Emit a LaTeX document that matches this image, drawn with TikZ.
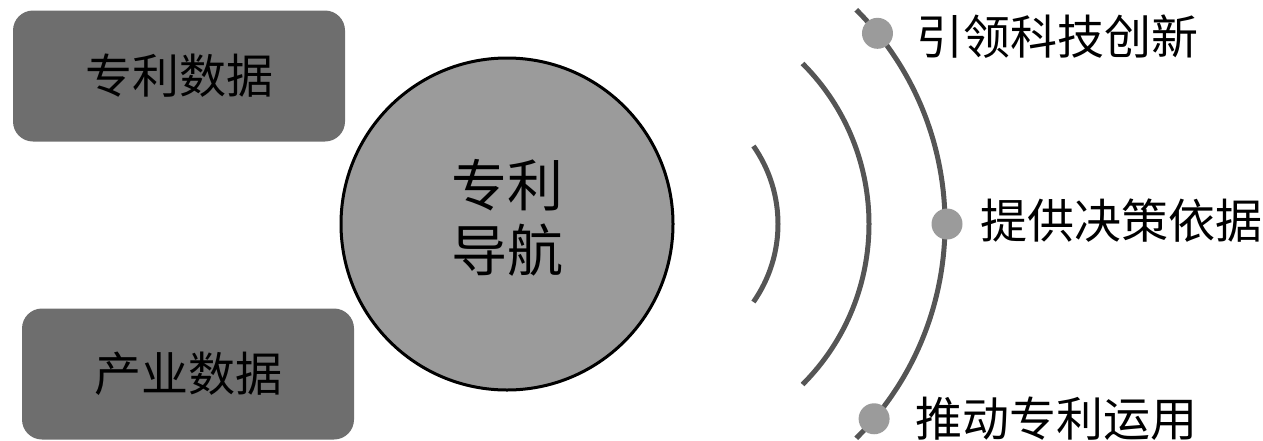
\documentclass[tikz,border=0pt]{standalone}
\usepackage{fontspec}
\newfontfamily\cjk{Noto Sans CJK SC}
\usetikzlibrary{calc}
\definecolor{boxgray}{HTML}{6E6E6E}
\definecolor{circgray}{HTML}{9B9B9B}
\definecolor{arcgray}{HTML}{555555}
\tikzset{
  databox/.style={fill=boxgray, rounded corners=20pt, inner sep=0pt,
    minimum width=332pt, minimum height=131pt,
    font=\cjk\fontsize{47}{56}\selectfont},
  hubcircle/.style={circle, fill=circgray, draw=black, line width=3pt,
    minimum size=332pt, inner sep=0pt},
  hubtext/.style={inner sep=0pt, align=center,
    font=\cjk\fontsize{56}{65}\selectfont},
  wave/.style={draw=arcgray, line width=5pt},
  dot/.style={circle, fill=circgray, minimum size=31pt, inner sep=0pt},
  label/.style={anchor=west, inner sep=0pt, font=\cjk\fontsize{47}{56}\selectfont}
}
\begin{document}
\begin{tikzpicture}[x=1pt, y=-1pt]
\useasboundingbox (0,0) rectangle (1263,440);
\node[databox] (d1) at (179,76) {专利数据};
\node[databox] (d2) at (188,374) {产业数据};
\node[hubcircle] (hub) at (507,224) {};
\node[hubtext] (hubt) at ($(hub.center)+(0,-6)$) {专利\\导航};
\coordinate (c) at (642,224);
\draw[wave] ($(c)+(-35:136)$) arc[start angle=-35, end angle=35, radius=136];
\draw[wave] ($(c)+(-45:227)$) arc[start angle=-45, end angle=45, radius=227];
\draw[wave] ($(c)+(-45:303)$) arc[start angle=-45, end angle=45, radius=303];
\node[dot] (p1) at ($(c)+(-39:303)$) {};
\node[dot] (p2) at ($(c)+(0:305)$) {};
\node[dot] (p3) at ($(c)+(40:303)$) {};
\node[label] (t1) at (916,37) {引领科技创新};
\node[label] (t2) at (980,221) {提供决策依据};
\node[label] (t3) at (915,419) {推动专利运用};
\end{tikzpicture}
\end{document}
